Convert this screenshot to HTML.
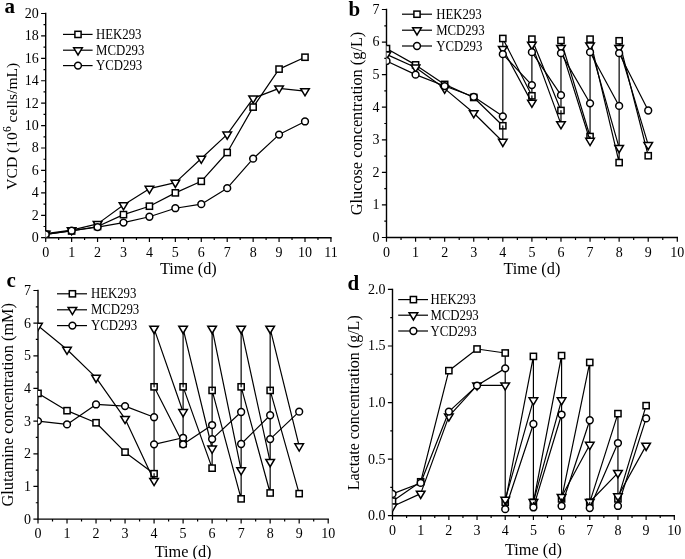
<!DOCTYPE html>
<html><head><meta charset="utf-8"><style>
html,body{margin:0;padding:0;background:#fff;width:685px;height:559px;overflow:hidden}
svg{display:block;will-change:transform}
text{font-family:"Liberation Serif",serif}
</style></head><body>
<svg width="685" height="559" viewBox="0 0 685 559" font-family="Liberation Serif, serif" fill="#000">
<rect width="100%" height="100%" fill="#fff"/>
<defs>
<clipPath id="ca"><rect x="45.7" y="7.5" width="291.23" height="230.2"/></clipPath>
<clipPath id="cb"><rect x="386.5" y="3.51" width="296.8" height="233.99"/></clipPath>
<clipPath id="cc"><rect x="38" y="284.48" width="296.2" height="234.62"/></clipPath>
<clipPath id="cd"><rect x="392.5" y="283.4" width="287.8" height="232.3"/></clipPath>
</defs>
<g font-size="21" font-weight="bold">
<text x="4.5" y="13">a</text>
<text x="348.5" y="16">b</text>
<text x="6.5" y="287">c</text>
<text x="347.5" y="289.5">d</text>
</g>
<path d="M45.7 13.5V237.7H330.93" stroke="#000" stroke-width="1.4" fill="none" stroke-linecap="square"/>
<path d="M45.7 237.7v4.3M58.67 237.7v2.4M71.63 237.7v4.3M84.59 237.7v2.4M97.56 237.7v4.3M110.53 237.7v2.4M123.49 237.7v4.3M136.45 237.7v2.4M149.42 237.7v4.3M162.39 237.7v2.4M175.35 237.7v4.3M188.32 237.7v2.4M201.28 237.7v4.3M214.24 237.7v2.4M227.21 237.7v4.3M240.17 237.7v2.4M253.14 237.7v4.3M266.1 237.7v2.4M279.07 237.7v4.3M292.03 237.7v2.4M305 237.7v4.3M317.96 237.7v2.4M330.93 237.7v4.3M45.7 237.7h-4.6M45.7 226.49h-2.2M45.7 215.28h-4.6M45.7 204.07h-2.2M45.7 192.86h-4.6M45.7 181.65h-2.2M45.7 170.44h-4.6M45.7 159.23h-2.2M45.7 148.02h-4.6M45.7 136.81h-2.2M45.7 125.6h-4.6M45.7 114.39h-2.2M45.7 103.18h-4.6M45.7 91.97h-2.2M45.7 80.76h-4.6M45.7 69.55h-2.2M45.7 58.34h-4.6M45.7 47.13h-2.2M45.7 35.92h-4.6M45.7 24.71h-2.2M45.7 13.5h-4.6" stroke="#000" stroke-width="1.2" fill="none"/>
<g font-size="14" text-anchor="middle">
<text x="45.7" y="256.7">0</text>
<text x="71.63" y="256.7">1</text>
<text x="97.56" y="256.7">2</text>
<text x="123.49" y="256.7">3</text>
<text x="149.42" y="256.7">4</text>
<text x="175.35" y="256.7">5</text>
<text x="201.28" y="256.7">6</text>
<text x="227.21" y="256.7">7</text>
<text x="253.14" y="256.7">8</text>
<text x="279.07" y="256.7">9</text>
<text x="305" y="256.7">10</text>
<text x="330.93" y="256.7">11</text>
</g>
<g font-size="14" text-anchor="end">
<text x="38.7" y="242.1">0</text>
<text x="38.7" y="219.68">2</text>
<text x="38.7" y="197.26">4</text>
<text x="38.7" y="174.84">6</text>
<text x="38.7" y="152.42">8</text>
<text x="38.7" y="130">10</text>
<text x="38.7" y="107.58">12</text>
<text x="38.7" y="85.16">14</text>
<text x="38.7" y="62.74">16</text>
<text x="38.7" y="40.32">18</text>
<text x="38.7" y="17.9">20</text>
</g>
<g clip-path="url(#ca)">
<path d="M45.7 234.34L71.63 230.97L97.56 226.49L123.49 214.61L149.42 206.2L175.35 192.86L201.28 181.31L227.21 152.5L253.14 107.1L279.07 69.1L305 57.22" stroke="#000" stroke-width="1.2" fill="none" stroke-linejoin="round" stroke-linecap="round"/>
<g fill="#fff" stroke="#000" stroke-width="1.5">
<rect x="42.6" y="231.24" width="6.2" height="6.2"/>
<rect x="68.53" y="227.87" width="6.2" height="6.2"/>
<rect x="94.46" y="223.39" width="6.2" height="6.2"/>
<rect x="120.39" y="211.51" width="6.2" height="6.2"/>
<rect x="146.32" y="203.1" width="6.2" height="6.2"/>
<rect x="172.25" y="189.76" width="6.2" height="6.2"/>
<rect x="198.18" y="178.21" width="6.2" height="6.2"/>
<rect x="224.11" y="149.4" width="6.2" height="6.2"/>
<rect x="250.04" y="104" width="6.2" height="6.2"/>
<rect x="275.97" y="66" width="6.2" height="6.2"/>
<rect x="301.9" y="54.12" width="6.2" height="6.2"/>
</g>
<path d="M45.7 233.64L71.63 230.05L97.56 223.88L123.49 205.05L149.42 188.68L175.35 182.63L201.28 158.53L227.21 134.43L253.14 98.33L279.07 88.36L305 91.05" stroke="#000" stroke-width="1.2" fill="none" stroke-linejoin="round" stroke-linecap="round"/>
<g fill="#fff" stroke="#000" stroke-width="1.5">
<path d="M41.4 231.24H50L45.7 238.44Z"/>
<path d="M67.33 227.65H75.93L71.63 234.85Z"/>
<path d="M93.26 221.48H101.86L97.56 228.68Z"/>
<path d="M119.19 202.65H127.79L123.49 209.85Z"/>
<path d="M145.12 186.28H153.72L149.42 193.48Z"/>
<path d="M171.05 180.23H179.65L175.35 187.43Z"/>
<path d="M196.98 156.13H205.58L201.28 163.33Z"/>
<path d="M222.91 132.03H231.51L227.21 139.23Z"/>
<path d="M248.84 95.93H257.44L253.14 103.13Z"/>
<path d="M274.77 85.96H283.37L279.07 93.16Z"/>
<path d="M300.7 88.65H309.3L305 95.85Z"/>
</g>
<path d="M45.7 234.34L71.63 230.64L97.56 227.05L123.49 222.57L149.42 216.74L175.35 208.22L201.28 204.18L227.21 188.15L253.14 158.67L279.07 134.57L305 121.45" stroke="#000" stroke-width="1.2" fill="none" stroke-linejoin="round" stroke-linecap="round"/>
<g fill="#fff" stroke="#000" stroke-width="1.5">
<circle cx="45.7" cy="234.34" r="3.4"/>
<circle cx="71.63" cy="230.64" r="3.4"/>
<circle cx="97.56" cy="227.05" r="3.4"/>
<circle cx="123.49" cy="222.57" r="3.4"/>
<circle cx="149.42" cy="216.74" r="3.4"/>
<circle cx="175.35" cy="208.22" r="3.4"/>
<circle cx="201.28" cy="204.18" r="3.4"/>
<circle cx="227.21" cy="188.15" r="3.4"/>
<circle cx="253.14" cy="158.67" r="3.4"/>
<circle cx="279.07" cy="134.57" r="3.4"/>
<circle cx="305" cy="121.45" r="3.4"/>
</g>
</g>
<path d="M386.5 9.51V237.5H677.3" stroke="#000" stroke-width="1.4" fill="none" stroke-linecap="square"/>
<path d="M386.5 237.5v4.3M401.04 237.5v2.4M415.58 237.5v4.3M430.12 237.5v2.4M444.66 237.5v4.3M459.2 237.5v2.4M473.74 237.5v4.3M488.28 237.5v2.4M502.82 237.5v4.3M517.36 237.5v2.4M531.9 237.5v4.3M546.44 237.5v2.4M560.98 237.5v4.3M575.52 237.5v2.4M590.06 237.5v4.3M604.6 237.5v2.4M619.14 237.5v4.3M633.68 237.5v2.4M648.22 237.5v4.3M662.76 237.5v2.4M677.3 237.5v4.3M386.5 237.5h-4.6M386.5 221.22h-2.2M386.5 204.93h-4.6M386.5 188.64h-2.2M386.5 172.36h-4.6M386.5 156.07h-2.2M386.5 139.79h-4.6M386.5 123.5h-2.2M386.5 107.22h-4.6M386.5 90.94h-2.2M386.5 74.65h-4.6M386.5 58.37h-2.2M386.5 42.08h-4.6M386.5 25.79h-2.2M386.5 9.51h-4.6" stroke="#000" stroke-width="1.2" fill="none"/>
<g font-size="14" text-anchor="middle">
<text x="386.5" y="256.5">0</text>
<text x="415.58" y="256.5">1</text>
<text x="444.66" y="256.5">2</text>
<text x="473.74" y="256.5">3</text>
<text x="502.82" y="256.5">4</text>
<text x="531.9" y="256.5">5</text>
<text x="560.98" y="256.5">6</text>
<text x="590.06" y="256.5">7</text>
<text x="619.14" y="256.5">8</text>
<text x="648.22" y="256.5">9</text>
<text x="677.3" y="256.5">10</text>
</g>
<g font-size="14" text-anchor="end">
<text x="379.5" y="241.9">0</text>
<text x="379.5" y="209.33">1</text>
<text x="379.5" y="176.76">2</text>
<text x="379.5" y="144.19">3</text>
<text x="379.5" y="111.62">4</text>
<text x="379.5" y="79.05">5</text>
<text x="379.5" y="46.48">6</text>
<text x="379.5" y="13.91">7</text>
</g>
<g clip-path="url(#cb)">
<path d="M386.5 48.59L415.58 64.88L444.66 84.42L473.74 97.45L502.82 125.78M502.82 38.5L531.9 95.82M531.9 39.15L560.98 110.48M560.98 40.45L590.06 136.53M590.06 39.15L619.14 162.59M619.14 40.78L648.22 155.75M502.82 38.5V125.78M531.9 39.15V95.82M560.98 40.45V110.48M590.06 39.15V136.53M619.14 40.78V162.59" stroke="#000" stroke-width="1.2" fill="none" stroke-linejoin="round" stroke-linecap="round"/>
<g fill="#fff" stroke="#000" stroke-width="1.5">
<rect x="383.4" y="45.49" width="6.2" height="6.2"/>
<rect x="412.48" y="61.78" width="6.2" height="6.2"/>
<rect x="441.56" y="81.32" width="6.2" height="6.2"/>
<rect x="470.64" y="94.35" width="6.2" height="6.2"/>
<rect x="499.72" y="122.68" width="6.2" height="6.2"/>
<rect x="499.72" y="35.4" width="6.2" height="6.2"/>
<rect x="528.8" y="92.72" width="6.2" height="6.2"/>
<rect x="528.8" y="36.05" width="6.2" height="6.2"/>
<rect x="557.88" y="107.38" width="6.2" height="6.2"/>
<rect x="557.88" y="37.35" width="6.2" height="6.2"/>
<rect x="586.96" y="133.43" width="6.2" height="6.2"/>
<rect x="586.96" y="36.05" width="6.2" height="6.2"/>
<rect x="616.04" y="159.49" width="6.2" height="6.2"/>
<rect x="616.04" y="37.68" width="6.2" height="6.2"/>
<rect x="645.12" y="152.65" width="6.2" height="6.2"/>
</g>
<path d="M386.5 54.41L415.58 67.44L444.66 88.61L473.74 113.03L502.82 141.7M502.82 48.87L531.9 102.61M531.9 44.64L560.98 124.11M560.98 47.89L590.06 140.72M590.06 45.29L619.14 147.88M619.14 47.89L648.22 144.95M502.82 125.78V141.7M531.9 95.82V102.61M560.98 110.48V124.11M590.06 136.53V140.72" stroke="#000" stroke-width="1.2" fill="none" stroke-linejoin="round" stroke-linecap="round"/>
<g fill="#fff" stroke="#000" stroke-width="1.5">
<path d="M382.2 52.01H390.8L386.5 59.21Z"/>
<path d="M411.28 65.04H419.88L415.58 72.24Z"/>
<path d="M440.36 86.21H448.96L444.66 93.41Z"/>
<path d="M469.44 110.63H478.04L473.74 117.83Z"/>
<path d="M498.52 139.3H507.12L502.82 146.5Z"/>
<path d="M498.52 46.47H507.12L502.82 53.67Z"/>
<path d="M527.6 100.21H536.2L531.9 107.41Z"/>
<path d="M527.6 42.24H536.2L531.9 49.44Z"/>
<path d="M556.68 121.71H565.28L560.98 128.91Z"/>
<path d="M556.68 45.49H565.28L560.98 52.69Z"/>
<path d="M585.76 138.32H594.36L590.06 145.52Z"/>
<path d="M585.76 42.89H594.36L590.06 50.09Z"/>
<path d="M614.84 145.48H623.44L619.14 152.68Z"/>
<path d="M614.84 45.49H623.44L619.14 52.69Z"/>
<path d="M643.92 142.55H652.52L648.22 149.75Z"/>
</g>
<path d="M386.5 60.97L415.58 74.65L444.66 86.05L473.74 96.8L502.82 116.34M502.82 54.13L531.9 85.07M531.9 52.18L560.98 95.17M560.98 53.15L590.06 103.31M590.06 52.18L619.14 105.92M619.14 53.15L648.22 110.48" stroke="#000" stroke-width="1.2" fill="none" stroke-linejoin="round" stroke-linecap="round"/>
<g fill="#fff" stroke="#000" stroke-width="1.5">
<circle cx="386.5" cy="60.97" r="3.4"/>
<circle cx="415.58" cy="74.65" r="3.4"/>
<circle cx="444.66" cy="86.05" r="3.4"/>
<circle cx="473.74" cy="96.8" r="3.4"/>
<circle cx="502.82" cy="116.34" r="3.4"/>
<circle cx="502.82" cy="54.13" r="3.4"/>
<circle cx="531.9" cy="85.07" r="3.4"/>
<circle cx="531.9" cy="52.18" r="3.4"/>
<circle cx="560.98" cy="95.17" r="3.4"/>
<circle cx="560.98" cy="53.15" r="3.4"/>
<circle cx="590.06" cy="103.31" r="3.4"/>
<circle cx="590.06" cy="52.18" r="3.4"/>
<circle cx="619.14" cy="105.92" r="3.4"/>
<circle cx="619.14" cy="53.15" r="3.4"/>
<circle cx="648.22" cy="110.48" r="3.4"/>
</g>
</g>
<path d="M38 290.48V519.1H328.2" stroke="#000" stroke-width="1.4" fill="none" stroke-linecap="square"/>
<path d="M38 519.1v4.3M52.51 519.1v2.4M67.02 519.1v4.3M81.53 519.1v2.4M96.04 519.1v4.3M110.55 519.1v2.4M125.06 519.1v4.3M139.57 519.1v2.4M154.08 519.1v4.3M168.59 519.1v2.4M183.1 519.1v4.3M197.61 519.1v2.4M212.12 519.1v4.3M226.63 519.1v2.4M241.14 519.1v4.3M255.65 519.1v2.4M270.16 519.1v4.3M284.67 519.1v2.4M299.18 519.1v4.3M313.69 519.1v2.4M328.2 519.1v4.3M38 519.1h-4.6M38 502.77h-2.2M38 486.44h-4.6M38 470.11h-2.2M38 453.78h-4.6M38 437.45h-2.2M38 421.12h-4.6M38 404.79h-2.2M38 388.46h-4.6M38 372.13h-2.2M38 355.8h-4.6M38 339.47h-2.2M38 323.14h-4.6M38 306.81h-2.2M38 290.48h-4.6" stroke="#000" stroke-width="1.2" fill="none"/>
<g font-size="14" text-anchor="middle">
<text x="38" y="538.1">0</text>
<text x="67.02" y="538.1">1</text>
<text x="96.04" y="538.1">2</text>
<text x="125.06" y="538.1">3</text>
<text x="154.08" y="538.1">4</text>
<text x="183.1" y="538.1">5</text>
<text x="212.12" y="538.1">6</text>
<text x="241.14" y="538.1">7</text>
<text x="270.16" y="538.1">8</text>
<text x="299.18" y="538.1">9</text>
<text x="328.2" y="538.1">10</text>
</g>
<g font-size="14" text-anchor="end">
<text x="31" y="523.5">0</text>
<text x="31" y="490.84">1</text>
<text x="31" y="458.18">2</text>
<text x="31" y="425.52">3</text>
<text x="31" y="392.86">4</text>
<text x="31" y="360.2">5</text>
<text x="31" y="327.54">6</text>
<text x="31" y="294.88">7</text>
</g>
<g clip-path="url(#cc)">
<path d="M38 393.36L67.02 410.67L96.04 422.75L125.06 452.15L154.08 473.7M154.08 386.83L183.1 443.66M183.1 386.83L212.12 468.15M212.12 390.42L241.14 498.85M241.14 386.83L270.16 492.97M270.16 390.42L299.18 493.63M154.08 386.83V473.7M183.1 386.83V443.66M212.12 390.42V468.15M241.14 386.83V498.85M270.16 390.42V492.97" stroke="#000" stroke-width="1.2" fill="none" stroke-linejoin="round" stroke-linecap="round"/>
<g fill="#fff" stroke="#000" stroke-width="1.5">
<rect x="34.9" y="390.26" width="6.2" height="6.2"/>
<rect x="63.92" y="407.57" width="6.2" height="6.2"/>
<rect x="92.94" y="419.65" width="6.2" height="6.2"/>
<rect x="121.96" y="449.05" width="6.2" height="6.2"/>
<rect x="150.98" y="470.6" width="6.2" height="6.2"/>
<rect x="150.98" y="383.73" width="6.2" height="6.2"/>
<rect x="180" y="440.56" width="6.2" height="6.2"/>
<rect x="180" y="383.73" width="6.2" height="6.2"/>
<rect x="209.02" y="465.05" width="6.2" height="6.2"/>
<rect x="209.02" y="387.32" width="6.2" height="6.2"/>
<rect x="238.04" y="495.75" width="6.2" height="6.2"/>
<rect x="238.04" y="383.73" width="6.2" height="6.2"/>
<rect x="267.06" y="489.87" width="6.2" height="6.2"/>
<rect x="267.06" y="387.32" width="6.2" height="6.2"/>
<rect x="296.08" y="490.53" width="6.2" height="6.2"/>
</g>
<path d="M38 325.71L67.02 349.55L96.04 377.64L125.06 418.79L154.08 480.84M154.08 328.65L183.1 411.93M183.1 328.65L212.12 448.51M212.12 328.65L241.14 470.06M241.14 328.65L270.16 461.9M270.16 328.65L299.18 446.22M154.08 328.65V386.83M154.08 473.7V480.84M183.1 328.65V386.83M212.12 328.65V390.42M241.14 328.65V386.83M270.16 328.65V390.42" stroke="#000" stroke-width="1.2" fill="none" stroke-linejoin="round" stroke-linecap="round"/>
<g fill="#fff" stroke="#000" stroke-width="1.5">
<path d="M33.7 323.31H42.3L38 330.51Z"/>
<path d="M62.72 347.15H71.32L67.02 354.35Z"/>
<path d="M91.74 375.24H100.34L96.04 382.44Z"/>
<path d="M120.76 416.39H129.36L125.06 423.59Z"/>
<path d="M149.78 478.44H158.38L154.08 485.64Z"/>
<path d="M149.78 326.25H158.38L154.08 333.45Z"/>
<path d="M178.8 409.53H187.4L183.1 416.73Z"/>
<path d="M178.8 326.25H187.4L183.1 333.45Z"/>
<path d="M207.82 446.11H216.42L212.12 453.31Z"/>
<path d="M207.82 326.25H216.42L212.12 333.45Z"/>
<path d="M236.84 467.66H245.44L241.14 474.86Z"/>
<path d="M236.84 326.25H245.44L241.14 333.45Z"/>
<path d="M265.86 459.5H274.46L270.16 466.7Z"/>
<path d="M265.86 326.25H274.46L270.16 333.45Z"/>
<path d="M294.88 443.82H303.48L299.18 451.02Z"/>
</g>
<path d="M38 421.12L67.02 424.39L96.04 404.46L125.06 406.1L154.08 417.2M154.08 444.31L183.1 437.78M183.1 444.31L212.12 425.04M212.12 439.08L241.14 411.98M241.14 443.98L270.16 415.24M270.16 439.08L299.18 411.65M183.1 443.66V444.31" stroke="#000" stroke-width="1.2" fill="none" stroke-linejoin="round" stroke-linecap="round"/>
<g fill="#fff" stroke="#000" stroke-width="1.5">
<circle cx="38" cy="421.12" r="3.4"/>
<circle cx="67.02" cy="424.39" r="3.4"/>
<circle cx="96.04" cy="404.46" r="3.4"/>
<circle cx="125.06" cy="406.1" r="3.4"/>
<circle cx="154.08" cy="417.2" r="3.4"/>
<circle cx="154.08" cy="444.31" r="3.4"/>
<circle cx="183.1" cy="437.78" r="3.4"/>
<circle cx="183.1" cy="444.31" r="3.4"/>
<circle cx="212.12" cy="425.04" r="3.4"/>
<circle cx="212.12" cy="439.08" r="3.4"/>
<circle cx="241.14" cy="411.98" r="3.4"/>
<circle cx="241.14" cy="443.98" r="3.4"/>
<circle cx="270.16" cy="415.24" r="3.4"/>
<circle cx="270.16" cy="439.08" r="3.4"/>
<circle cx="299.18" cy="411.65" r="3.4"/>
</g>
</g>
<path d="M392.5 289.4V515.7H674.3" stroke="#000" stroke-width="1.4" fill="none" stroke-linecap="square"/>
<path d="M392.5 515.7v4.3M406.59 515.7v2.4M420.68 515.7v4.3M434.77 515.7v2.4M448.86 515.7v4.3M462.95 515.7v2.4M477.04 515.7v4.3M491.13 515.7v2.4M505.22 515.7v4.3M519.31 515.7v2.4M533.4 515.7v4.3M547.49 515.7v2.4M561.58 515.7v4.3M575.67 515.7v2.4M589.76 515.7v4.3M603.85 515.7v2.4M617.94 515.7v4.3M632.03 515.7v2.4M646.12 515.7v4.3M660.21 515.7v2.4M674.3 515.7v4.3M392.5 515.7h-4.6M392.5 487.41h-2.2M392.5 459.13h-4.6M392.5 430.84h-2.2M392.5 402.55h-4.6M392.5 374.26h-2.2M392.5 345.98h-4.6M392.5 317.69h-2.2M392.5 289.4h-4.6" stroke="#000" stroke-width="1.2" fill="none"/>
<g font-size="14" text-anchor="middle">
<text x="392.5" y="534.7">0</text>
<text x="420.68" y="534.7">1</text>
<text x="448.86" y="534.7">2</text>
<text x="477.04" y="534.7">3</text>
<text x="505.22" y="534.7">4</text>
<text x="533.4" y="534.7">5</text>
<text x="561.58" y="534.7">6</text>
<text x="589.76" y="534.7">7</text>
<text x="617.94" y="534.7">8</text>
<text x="646.12" y="534.7">9</text>
<text x="674.3" y="534.7">10</text>
</g>
<g font-size="14" text-anchor="end">
<text x="385.5" y="520.1">0.0</text>
<text x="385.5" y="463.53">0.5</text>
<text x="385.5" y="406.95">1.0</text>
<text x="385.5" y="350.38">1.5</text>
<text x="385.5" y="293.8">2.0</text>
</g>
<g clip-path="url(#cd)">
<path d="M392.5 501.18L420.68 481.8L448.86 370.65L477.04 348.99L505.22 352.98M505.22 502.32L533.4 356.4M533.4 502.32L561.58 355.6M561.58 498.9L589.76 362.44M589.76 502.32L617.94 413.63M617.94 498.9L646.12 405.65M505.22 352.98V502.32M533.4 356.4V502.32M561.58 355.6V498.9M589.76 362.44V502.32M617.94 413.63V498.9" stroke="#000" stroke-width="1.2" fill="none" stroke-linejoin="round" stroke-linecap="round"/>
<g fill="#fff" stroke="#000" stroke-width="1.5">
<rect x="389.4" y="498.08" width="6.2" height="6.2"/>
<rect x="417.58" y="478.7" width="6.2" height="6.2"/>
<rect x="445.76" y="367.55" width="6.2" height="6.2"/>
<rect x="473.94" y="345.89" width="6.2" height="6.2"/>
<rect x="502.12" y="349.88" width="6.2" height="6.2"/>
<rect x="502.12" y="499.22" width="6.2" height="6.2"/>
<rect x="530.3" y="353.3" width="6.2" height="6.2"/>
<rect x="530.3" y="499.22" width="6.2" height="6.2"/>
<rect x="558.48" y="352.5" width="6.2" height="6.2"/>
<rect x="558.48" y="495.8" width="6.2" height="6.2"/>
<rect x="586.66" y="359.34" width="6.2" height="6.2"/>
<rect x="586.66" y="499.22" width="6.2" height="6.2"/>
<rect x="614.84" y="410.53" width="6.2" height="6.2"/>
<rect x="614.84" y="495.8" width="6.2" height="6.2"/>
<rect x="643.02" y="402.55" width="6.2" height="6.2"/>
</g>
<path d="M392.5 506.52L420.68 493.64L448.86 416.35L477.04 385.34L505.22 385.34M505.22 499.68L533.4 400.16M533.4 501.96L561.58 400.16M561.58 496.83L589.76 444.73M589.76 501.96L617.94 472.89M617.94 496.26L646.12 445.65" stroke="#000" stroke-width="1.2" fill="none" stroke-linejoin="round" stroke-linecap="round"/>
<g fill="#fff" stroke="#000" stroke-width="1.5">
<path d="M388.2 504.12H396.8L392.5 511.32Z"/>
<path d="M416.38 491.24H424.98L420.68 498.44Z"/>
<path d="M444.56 413.95H453.16L448.86 421.15Z"/>
<path d="M472.74 382.94H481.34L477.04 390.14Z"/>
<path d="M500.92 382.94H509.52L505.22 390.14Z"/>
<path d="M500.92 497.28H509.52L505.22 504.48Z"/>
<path d="M529.1 397.76H537.7L533.4 404.96Z"/>
<path d="M529.1 499.56H537.7L533.4 506.76Z"/>
<path d="M557.28 397.76H565.88L561.58 404.96Z"/>
<path d="M557.28 494.43H565.88L561.58 501.63Z"/>
<path d="M585.46 442.33H594.06L589.76 449.53Z"/>
<path d="M585.46 499.56H594.06L589.76 506.76Z"/>
<path d="M613.64 470.49H622.24L617.94 477.69Z"/>
<path d="M613.64 493.86H622.24L617.94 501.06Z"/>
<path d="M641.82 443.25H650.42L646.12 450.45Z"/>
</g>
<path d="M392.5 493.88L420.68 482.94L448.86 411.58L477.04 385.58L505.22 368.37M505.22 509.16L533.4 424M533.4 507.45L561.58 414.54M561.58 505.97L589.76 420.24M589.76 508.02L617.94 443.04M617.94 505.97L646.12 418.42M505.22 502.32V509.16M533.4 502.32V507.45M561.58 498.9V505.97M589.76 502.32V508.02M617.94 498.9V505.97" stroke="#000" stroke-width="1.2" fill="none" stroke-linejoin="round" stroke-linecap="round"/>
<g fill="#fff" stroke="#000" stroke-width="1.5">
<circle cx="392.5" cy="493.88" r="3.4"/>
<circle cx="420.68" cy="482.94" r="3.4"/>
<circle cx="448.86" cy="411.58" r="3.4"/>
<circle cx="477.04" cy="385.58" r="3.4"/>
<circle cx="505.22" cy="368.37" r="3.4"/>
<circle cx="505.22" cy="509.16" r="3.4"/>
<circle cx="533.4" cy="424" r="3.4"/>
<circle cx="533.4" cy="507.45" r="3.4"/>
<circle cx="561.58" cy="414.54" r="3.4"/>
<circle cx="561.58" cy="505.97" r="3.4"/>
<circle cx="589.76" cy="420.24" r="3.4"/>
<circle cx="589.76" cy="508.02" r="3.4"/>
<circle cx="617.94" cy="443.04" r="3.4"/>
<circle cx="617.94" cy="505.97" r="3.4"/>
<circle cx="646.12" cy="418.42" r="3.4"/>
</g>
</g>
<path d="M63 34.4H92.6" stroke="#000" stroke-width="1.2"/>
<g fill="#fff" stroke="#000" stroke-width="1.5"><rect x="74.9" y="31.3" width="6.2" height="6.2"/></g>
<text transform="translate(96 38.9) scale(0.915 1)" font-size="14">HEK293</text>
<path d="M63 50.2H92.6" stroke="#000" stroke-width="1.2"/>
<g fill="#fff" stroke="#000" stroke-width="1.5"><path d="M73.7 47.8H82.3L78 55Z"/></g>
<text transform="translate(96 54.7) scale(0.915 1)" font-size="14">MCD293</text>
<path d="M63 65.6H92.6" stroke="#000" stroke-width="1.2"/>
<g fill="#fff" stroke="#000" stroke-width="1.5"><circle cx="78" cy="65.6" r="3.4"/></g>
<text transform="translate(96 70.1) scale(0.915 1)" font-size="14">YCD293</text>
<path d="M402 14.2H432" stroke="#000" stroke-width="1.2"/>
<g fill="#fff" stroke="#000" stroke-width="1.5"><rect x="413.9" y="11.1" width="6.2" height="6.2"/></g>
<text transform="translate(436.2 18.7) scale(0.915 1)" font-size="14">HEK293</text>
<path d="M402 30.2H432" stroke="#000" stroke-width="1.2"/>
<g fill="#fff" stroke="#000" stroke-width="1.5"><path d="M412.7 27.8H421.3L417 35Z"/></g>
<text transform="translate(436.2 34.7) scale(0.915 1)" font-size="14">MCD293</text>
<path d="M402 46H432" stroke="#000" stroke-width="1.2"/>
<g fill="#fff" stroke="#000" stroke-width="1.5"><circle cx="417" cy="46" r="3.4"/></g>
<text transform="translate(436.2 50.5) scale(0.915 1)" font-size="14">YCD293</text>
<path d="M57 293.8H87" stroke="#000" stroke-width="1.2"/>
<g fill="#fff" stroke="#000" stroke-width="1.5"><rect x="69.3" y="290.7" width="6.2" height="6.2"/></g>
<text transform="translate(90.9 298.3) scale(0.915 1)" font-size="14">HEK293</text>
<path d="M57 309.8H87" stroke="#000" stroke-width="1.2"/>
<g fill="#fff" stroke="#000" stroke-width="1.5"><path d="M68.1 307.4H76.7L72.4 314.6Z"/></g>
<text transform="translate(90.9 314.3) scale(0.915 1)" font-size="14">MCD293</text>
<path d="M57 325.6H87" stroke="#000" stroke-width="1.2"/>
<g fill="#fff" stroke="#000" stroke-width="1.5"><circle cx="72.4" cy="325.6" r="3.4"/></g>
<text transform="translate(90.9 330.1) scale(0.915 1)" font-size="14">YCD293</text>
<path d="M398.2 299.6H428" stroke="#000" stroke-width="1.2"/>
<g fill="#fff" stroke="#000" stroke-width="1.5"><rect x="410.3" y="296.5" width="6.2" height="6.2"/></g>
<text transform="translate(430.4 304.1) scale(0.915 1)" font-size="14">HEK293</text>
<path d="M398.2 315.2H428" stroke="#000" stroke-width="1.2"/>
<g fill="#fff" stroke="#000" stroke-width="1.5"><path d="M409.1 312.8H417.7L413.4 320Z"/></g>
<text transform="translate(430.4 319.7) scale(0.915 1)" font-size="14">MCD293</text>
<path d="M398.2 331H428" stroke="#000" stroke-width="1.2"/>
<g fill="#fff" stroke="#000" stroke-width="1.5"><circle cx="413.4" cy="331" r="3.4"/></g>
<text transform="translate(430.4 335.5) scale(0.915 1)" font-size="14">YCD293</text>
<text x="188.31" y="273.8" font-size="16.3" text-anchor="middle">Time (d)</text>
<text x="531.9" y="273.9" font-size="16.3" text-anchor="middle">Time (d)</text>
<text x="183.1" y="556.6" font-size="16.3" text-anchor="middle">Time (d)</text>
<text x="533.4" y="554.6" font-size="16.3" text-anchor="middle">Time (d)</text>
<text transform="translate(17.2 126.2) rotate(-90)" font-size="15.6" text-anchor="middle">VCD (10<tspan font-size="11.5" dy="-6">6</tspan><tspan dy="6"> cells/mL)</tspan></text>
<text transform="translate(362 123.5) rotate(-90)" font-size="16.3" text-anchor="middle">Glucose concentration (g/L)</text>
<text transform="translate(13.4 404.79) rotate(-90)" font-size="16.3" text-anchor="middle">Glutamine concentration (mM)</text>
<text transform="translate(359.2 402.8) rotate(-90)" font-size="16.0" text-anchor="middle">Lactate concentration (g/L)</text>
</svg>
</body></html>
